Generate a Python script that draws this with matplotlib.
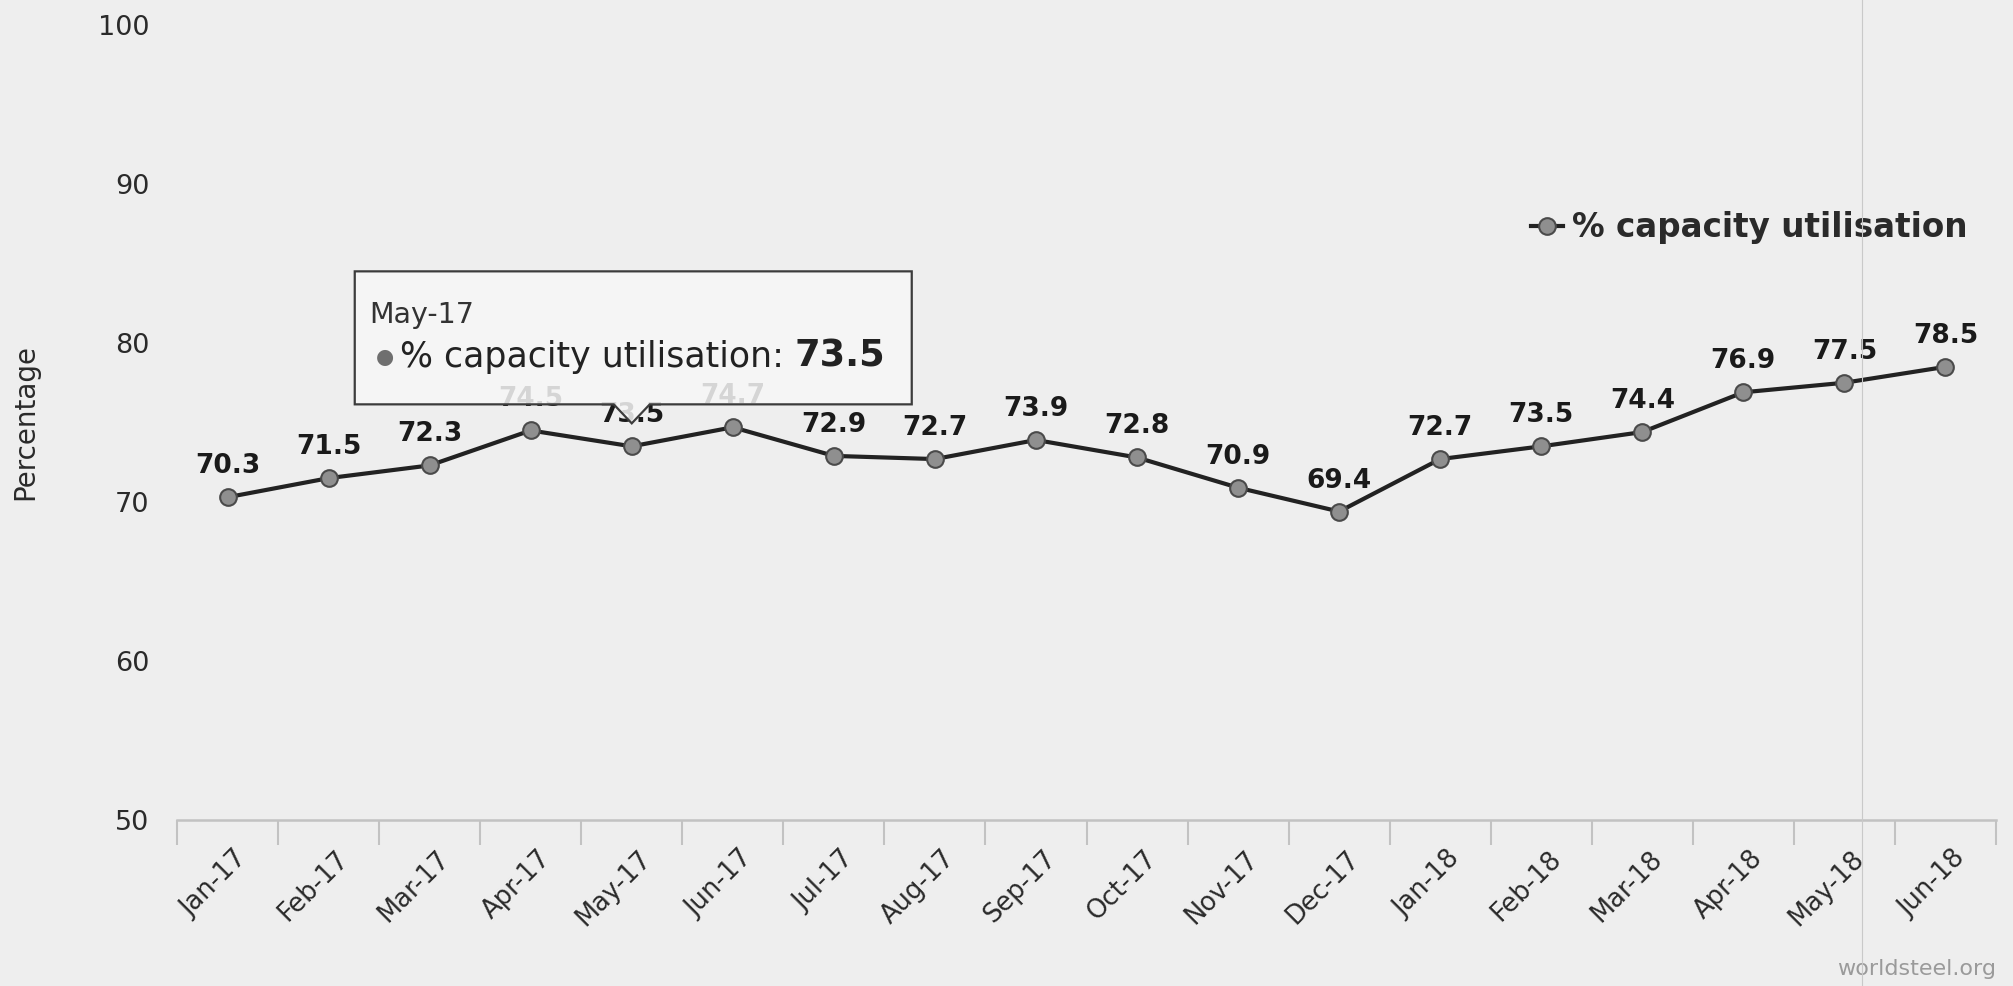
import numpy as np
import matplotlib
matplotlib.use("Agg")
import matplotlib.pyplot as plt
from matplotlib.path import Path
from matplotlib.patches import PathPatch
from matplotlib.lines import Line2D
from matplotlib.transforms import ScaledTranslation, IdentityTransform

# ---- data -------------------------------------------------------------
months = ["Jan-17", "Feb-17", "Mar-17", "Apr-17", "May-17", "Jun-17",
          "Jul-17", "Aug-17", "Sep-17", "Oct-17", "Nov-17", "Dec-17",
          "Jan-18", "Feb-18", "Mar-18", "Apr-18", "May-18", "Jun-18"]
capacity = [70.3, 71.5, 72.3, 74.5, 73.5, 74.7,
            72.9, 72.7, 73.9, 72.8, 70.9, 69.4,
            72.7, 73.5, 74.4, 76.9, 77.5, 78.5]
y_ticks = [50, 60, 70, 80, 90, 100]
series_name = "% capacity utilisation"
y_title = "Percentage"
credit = "worldsteel.org"
hover_index = 4  # point shown in the tooltip

# ---- style ------------------------------------------------------------
BG = "#eeeeee"
LINE = "#222222"
AXIS = "#c2c2c2"
TEXT = "#2a2a2a"
plt.rcParams["font.family"] = ["DejaVu Sans"]

W, H = 2013, 986
fig = plt.figure(figsize=(W / 100, H / 100), dpi=100, facecolor=BG)
ax = fig.add_axes([177 / W, 1 - 820 / H, (1996 - 177) / W, (820 - 25) / H])
ax.set_facecolor(BG)

x = np.arange(len(months))
ax.plot(x, capacity, color=LINE, lw=3, marker="o", ms=12,
        mfc="#8f8f8f", mec="#4a4a4a", mew=1.5, zorder=3,
        clip_on=False, label=series_name)

ax.set_xlim(-0.5, len(months) - 0.5)
ax.set_ylim(y_ticks[0], y_ticks[-1])

# y axis
ax.set_yticks(y_ticks)
ax.tick_params(axis="y", length=0, pad=20, labelsize=19.5, labelcolor=TEXT)
ax.set_ylabel(y_title, fontsize=20, color=TEXT)
ax.yaxis.set_label_coords(-0.076, 0.5)

# x axis: labels at category centres, tick marks on category boundaries
ax.set_xticks(x)
ax.set_xticklabels(months, rotation=45, ha="right", va="center",
                   rotation_mode="anchor")
ax.tick_params(axis="x", which="major", length=0, pad=25,
               labelsize=18.5, labelcolor=TEXT)
shift = ScaledTranslation(16 / 100, 0, fig.dpi_scale_trans)
for lab in ax.get_xticklabels():
    lab.set_transform(lab.get_transform() + shift)
ax.set_xticks(np.arange(-0.5, len(months), 1), minor=True)
ax.tick_params(axis="x", which="minor", length=18, width=1.5,
               color=AXIS, direction="out")

for side in ("left", "top", "right"):
    ax.spines[side].set_visible(False)
ax.spines["bottom"].set_color(AXIS)
ax.spines["bottom"].set_linewidth(1.8)

# value labels above each point
for xi, v in zip(x, capacity):
    ax.annotate(f"{v:.1f}", (xi, v), xytext=(0, 31),
                textcoords="offset pixels", ha="center", va="center",
                fontsize=19, fontweight="bold", color="#1a1a1a", zorder=4)

# legend
leg = ax.legend(loc="center right", bbox_to_anchor=(1967 / W, 1 - 228 / H),
                bbox_transform=fig.transFigure, frameon=False,
                fontsize=23.5, handlelength=1.0, handletextpad=0.25,
                borderpad=0, borderaxespad=0)
for t in leg.get_texts():
    t.set_fontweight("bold")
    t.set_color(TEXT)

# tooltip for the hovered point
fig.canvas.draw()
px, py = ax.transData.transform((x[hover_index], capacity[hover_index]))
tip_y = py + 23
bottom, top = py + 42, py + 175
left, right = px - 277, px + 280
verts = [(left, bottom), (px - 18, bottom), (px, tip_y), (px + 18, bottom),
         (right, bottom), (right, top), (left, top), (left, bottom)]
codes = [Path.MOVETO] + [Path.LINETO] * 6 + [Path.CLOSEPOLY]
tip_patch = PathPatch(Path(verts, codes), transform=IdentityTransform(),
                      facecolor=(0.97, 0.97, 0.97, 0.85),
                      edgecolor="#3c3c3c", lw=1.6, zorder=6)
ax.add_artist(tip_patch)

pt = (x[hover_index], capacity[hover_index])
ax.annotate(months[hover_index], pt, xytext=(-262, 131),
            textcoords="offset pixels", ha="left", va="center",
            fontsize=20.5, color="#333333", zorder=7)
ax.annotate("\u25CF", pt, xytext=(-247, 89), textcoords="offset pixels",
            ha="center", va="center", fontsize=15, color="#6f6f6f", zorder=7)
t1 = ax.annotate(series_name + ": ", pt, xytext=(-232, 89),
                 textcoords="offset pixels", ha="left", va="center",
                 fontsize=25, color="#222222", zorder=7)
ax.annotate(f"{capacity[hover_index]:.1f}", xy=(1, 0), xycoords=t1,
            ha="left", va="bottom", fontsize=26.5, fontweight="bold",
            color="#222222", zorder=7)

# credits
fig.text(1996 / W, 1 - 969 / H, credit, ha="right", va="center",
         fontsize=16, color="#9a9a9a")

# thin vertical seam line
fig.add_artist(Line2D([1862 / W, 1862 / W], [0, 1], transform=fig.transFigure,
                      color="#c9c9c9", lw=0.8, zorder=10))

fig.savefig("out.png", dpi=100, facecolor=BG)
